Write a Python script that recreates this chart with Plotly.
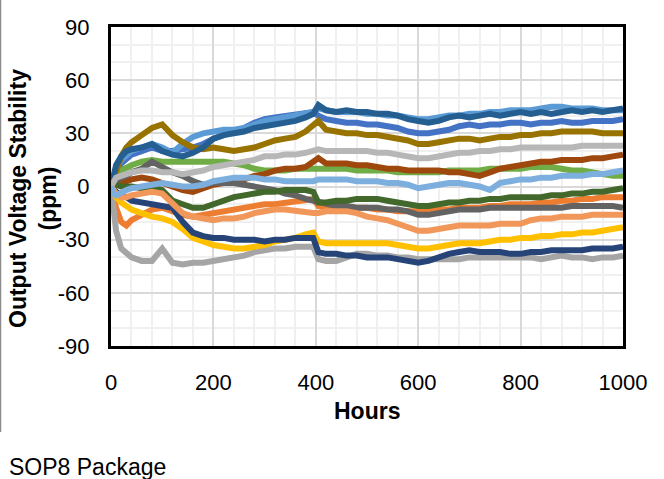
import plotly.graph_objects as go

HOURS = ([0, 5, 10, 20, 30]
         + list(range(40, 381, 20))
         + [395, 405]
         + list(range(420, 1001, 20)))

# ppm readings, one list per unit (Excel default colour order)
medium_blue = [0, 4, 8, 13, 16,
               18, 20, 22, 20, 20, 21, 22, 24, 27,
               29, 31, 33, 36, 38, 39, 40, 41, 42,
               42, 40,
               38, 37, 36, 36, 35, 35, 34, 33, 31, 30,
               30, 31, 32, 34, 35, 34, 35, 35, 36, 36,
               35, 36, 36, 37, 36, 36, 37, 37, 37, 38]
orange = [0, -6, -12, -20, -22,
          -19, -16, -13, -12, -14, -16, -17, -16, -15,
          -14, -13, -12, -11, -10, -10, -9, -8, -7,
          -7, -11,
          -12, -12, -12, -12, -12, -13, -13, -14, -14, -14,
          -14, -13, -13, -12, -12, -12, -11, -11, -10, -10,
          -10, -9, -9, -8, -8, -7, -7, -6, -6, -6]
gray = [0, -12, -25, -35, -38,
        -40, -42, -42, -35, -43, -44, -43, -43, -42,
        -41, -40, -39, -37, -36, -35, -35, -34, -34,
        -34, -41,
        -42, -42, -40, -38, -38, -39, -39, -40, -40, -41,
        -41, -41, -41, -41, -40, -40, -40, -40, -40, -40,
        -40, -41, -40, -39, -40, -40, -41, -40, -40, -39]
yellow = [0, -3, -6, -9, -11,
          -13, -15, -17, -18, -20, -24, -29, -31, -33,
          -34, -35, -35, -34, -33, -31, -30, -29, -27,
          -26, -31,
          -32, -32, -32, -32, -32, -32, -32, -33, -34, -35,
          -35, -34, -33, -32, -32, -32, -31, -30, -30, -29,
          -29, -28, -28, -27, -27, -26, -26, -25, -24, -23]
light_blue = [0, 5, 10, 15, 18,
              20, 22, 24, 22, 19, 24, 28, 30, 31,
              32, 32, 33, 35, 37, 38, 39, 40, 41,
              42, 44,
              43, 42, 42, 42, 41, 41, 40, 40, 39, 38,
              38, 39, 40, 40, 41, 41, 42, 42, 43, 43,
              43, 44, 45, 45, 44, 44, 44, 43, 43, 43]
green = [0, 3, 6, 9, 11,
         12, 14, 15, 14, 14, 14, 14, 14, 14,
         14, 13, 12, 10, 9, 9, 9, 10, 10,
         10, 10,
         10, 10, 10, 9, 9, 9, 9, 8, 8, 8,
         8, 8, 9, 9, 9, 9, 10, 10, 10, 10,
         11, 11, 11, 10, 9, 9, 8, 7, 6, 6]
navy = [0, -2, -3, -5, -6,
        -8, -9, -10, -11, -12, -20, -26, -28, -29,
        -29, -30, -30, -30, -31, -30, -30, -29, -29,
        -29, -37,
        -38, -38, -39, -39, -40, -40, -40, -41, -42, -43,
        -42, -40, -38, -37, -36, -37, -37, -37, -38, -38,
        -37, -37, -36, -36, -36, -36, -35, -35, -35, -34]
brown = [0, 1, 2, 3, 3,
         4, 5, 4, 2, 0, -2, -3, -1, 1,
         2, 3, 4, 6, 7, 9, 10, 10, 11,
         14, 16,
         13, 13, 13, 12, 12, 11, 10, 10, 9, 9,
         9, 9, 8, 8, 7, 6, 8, 10, 11, 12,
         13, 14, 14, 15, 15, 15, 16, 16, 17, 18]
dark_gray = [0, 2, 3, 5, 6,
             8, 10, 14, 11, 8, 6, 3, 1, 2,
             2, 2, 1, 0, -1, -2, -4, -5, -7,
             -8, -9,
             -10, -11, -11, -12, -12, -12, -13, -13, -14, -16,
             -16, -15, -14, -13, -13, -13, -12, -12, -12, -12,
             -12, -12, -12, -12, -11, -11, -11, -11, -11, -12]
olive = [0, 5, 10, 17, 22,
         25, 29, 33, 35, 29, 25, 22, 21, 22,
         21, 20, 21, 22, 24, 26, 27, 28, 31,
         35, 37,
         32, 31, 30, 30, 29, 29, 28, 27, 26, 24,
         24, 25, 26, 27, 27, 26, 27, 28, 28, 29,
         29, 30, 30, 31, 31, 31, 31, 30, 30, 30]
dark_blue = [0, 6, 12, 17, 20,
             21, 22, 24, 20, 18, 17, 19, 22, 27,
             29, 30, 31, 33, 34, 35, 36, 37, 39,
             41, 46,
             43, 42, 43, 42, 42, 41, 41, 40, 38, 37,
             36, 37, 39, 40, 39, 40, 41, 40, 41, 42,
             41, 42, 41, 42, 43, 42, 43, 42, 43, 44]
dark_green = [0, 1, 1, 0, 0,
              0, -1, 0, -2, -8, -10, -12, -12, -10,
              -8, -6, -5, -4, -3, -3, -2, -2, -2,
              -3, -9,
              -9, -8, -8, -7, -7, -7, -8, -9, -10, -11,
              -11, -10, -9, -9, -8, -8, -7, -7, -6, -6,
              -6, -6, -5, -5, -4, -4, -3, -3, -2, -1]
light_orange = [0, -2, -4, -6, -6,
                -5, -4, -3, -4, -10, -15, -17, -18, -19,
                -18, -18, -17, -15, -14, -13, -13, -14, -15,
                -15, -15,
                -14, -14, -14, -15, -17, -18, -19, -21, -23, -25,
                -25, -24, -23, -22, -22, -22, -22, -21, -21, -21,
                -19, -18, -18, -17, -17, -17, -16, -16, -16, -16]
light_gray = [0, 3, 5, 6, 7,
              8, 9, 9, 8, 8, 7, 8, 9, 11,
              12, 13, 14, 15, 17, 17, 18, 18, 19,
              20, 21,
              20, 20, 20, 20, 20, 19, 19, 18, 17, 16,
              16, 17, 18, 19, 19, 20, 20, 21, 21, 22,
              22, 22, 22, 22, 22, 23, 23, 23, 23, 23]
pale_blue = [0, -4, -5, -3, -2,
             -1, 0, 1, 2, 1, 0, 0, 1, 3,
             4, 5, 5, 5, 4, 4, 3, 3, 3,
             3, 4,
             4, 4, 4, 3, 3, 3, 2, 2, 1, -1,
             0, 1, 2, 2, 1, 0, -2, 2, 3, 4,
             4, 5, 5, 6, 6, 6, 7, 7, 8, 9]

Y_TICKS = [-90, -60, -30, 0, 30, 60, 90]
Y_LABELS = ["-90", "-60", "-30", "0", "30", "60", "90"]

SERIES = [
    (medium_blue, "#4472C4"), (orange, "#ED7D31"), (gray, "#A5A5A5"),
    (yellow, "#FFC000"), (light_blue, "#5B9BD5"), (green, "#70AD47"),
    (navy, "#264478"), (brown, "#9E480E"), (dark_gray, "#636363"),
    (olive, "#997300"), (dark_blue, "#255E91"), (dark_green, "#43682B"),
    (light_orange, "#F1975A"), (light_gray, "#B7B7B7"), (pale_blue, "#7CAFDD"),
]

FONT = "Liberation Sans, Arial, sans-serif"

fig = go.Figure()
for vals, col in SERIES:
    fig.add_trace(go.Scatter(x=HOURS, y=vals, mode="lines",
                             line=dict(color=col, width=6),
                             showlegend=False, hoverinfo="skip"))

axis_common = dict(showline=True, mirror=True, linecolor="black", linewidth=3,
                   zeroline=False, ticks="outside",
                   tickcolor="rgba(0,0,0,0)",
                   tickfont=dict(family=FONT, size=22, color="black"))

fig.update_xaxes(range=[0, 1000], dtick=200, gridcolor="#d9d9d9", gridwidth=2,
                 minor=dict(dtick=40, showgrid=True, gridcolor="#f0f0f0", gridwidth=2),
                 ticklen=15, **axis_common)
fig.update_yaxes(range=[-90, 90], tickvals=Y_TICKS, ticktext=Y_LABELS,
                 gridcolor="#d9d9d9", gridwidth=2,
                 minor=dict(dtick=10, showgrid=True, gridcolor="#f0f0f0", gridwidth=2),
                 ticklen=14, **axis_common)

W, H = 664, 479
L, R, T, B = 111, 41, 27, 133
pw, ph = W - L - R, H - T - B

def px(xp):
    return (xp - L) / pw

def py(yp):
    return (H - B - yp) / ph

fig.add_annotation(text="<b>Output Voltage Stability<br>(ppm)</b>", textangle=-90,
                   x=px(33), y=py(199), xref="paper", yref="paper",
                   xanchor="center", yanchor="middle", showarrow=False,
                   font=dict(family=FONT, size=23, color="black"))
fig.add_annotation(text="<b>Hours</b>", x=px(367), y=py(411), xref="paper", yref="paper",
                   xanchor="center", yanchor="middle", showarrow=False,
                   font=dict(family=FONT, size=23, color="black"))
fig.add_annotation(text="SOP8 Package", x=px(7), y=py(467), xref="paper", yref="paper",
                   xanchor="left", yanchor="middle", showarrow=False,
                   font=dict(family=FONT, size=23, color="black"))

# thin grey rule down the left edge of the page
fig.add_shape(type="line", xref="paper", yref="paper",
              x0=px(0.5), x1=px(0.5), y0=py(0), y1=py(432),
              line=dict(color="#8c8c8c", width=1.5))

fig.update_layout(width=W, height=H, margin=dict(l=L, r=R, t=T, b=B),
                  plot_bgcolor="white", paper_bgcolor="white")

# drop the browser's default 8px body margin so the figure sits at the corner
fig.write_html("out.html", config={"displayModeBar": False},
               post_script="document.body.style.margin='0';document.body.style.overflow='hidden';")
